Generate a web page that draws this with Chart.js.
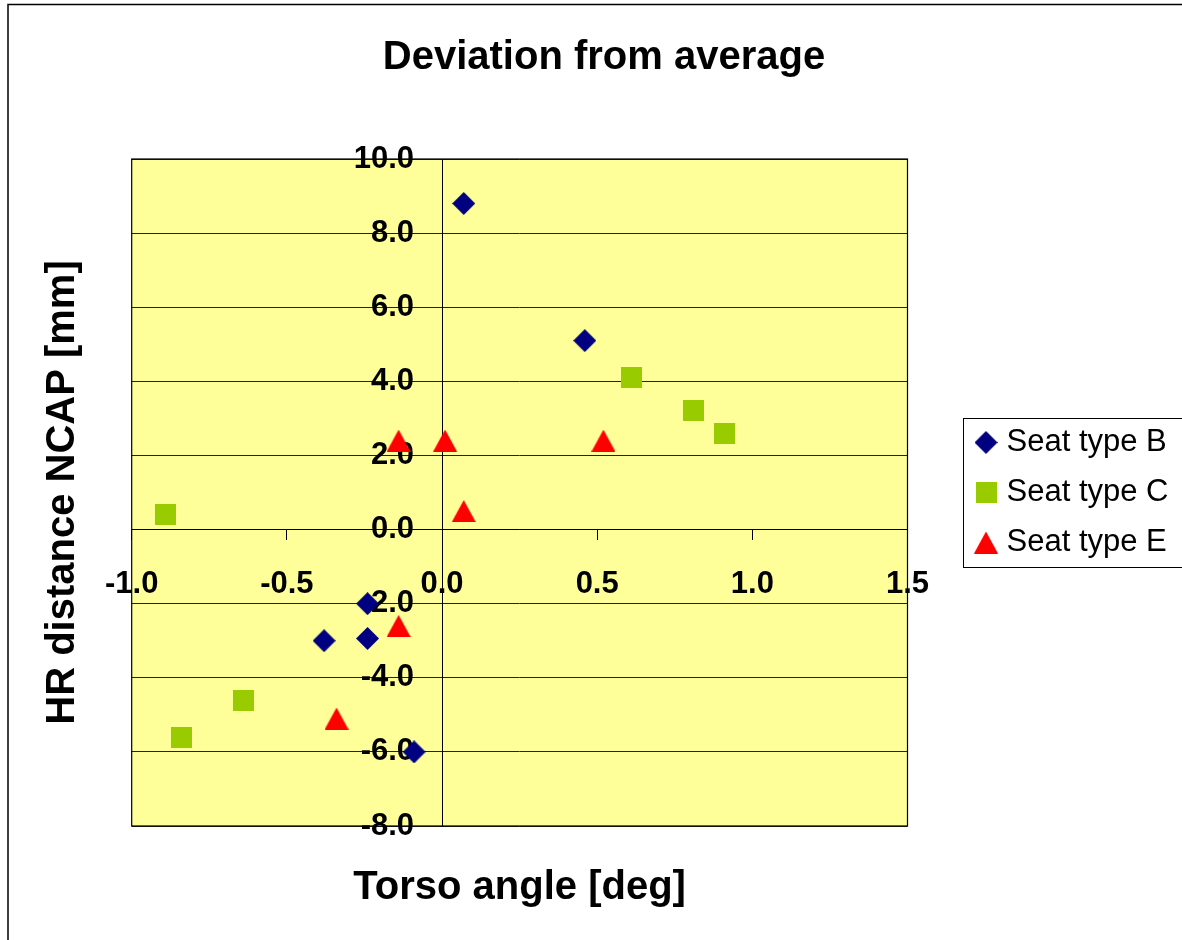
<!DOCTYPE html>
<html>
<head>
<meta charset="utf-8">
<title>Deviation from average</title>
<script src="https://cdn.jsdelivr.net/npm/chart.js@4/dist/chart.umd.min.js"></script>
<style>
  html, body { margin: 0; padding: 0; background: #ffffff; }
  #wrap { width: 1182px; height: 940px; }
</style>
</head>
<body>
<div id="wrap"><canvas id="chart" width="1182" height="940"></canvas></div>
<script>
// Torso angle [deg] (x) versus HR distance NCAP [mm] (y), per seat type
const seatTypes = ['Seat type B', 'Seat type C', 'Seat type E'];

const seatBTorso = [0.07, 0.46, -0.24, -0.38, -0.24, -0.09];
const seatBHR    = [8.8, 5.1, -2.0, -3.0, -2.94, -6.0];

const seatCTorso = [-0.89, 0.61, 0.81, 0.91, -0.64, -0.84];
const seatCHR    = [0.4, 4.1, 3.2, 2.6, -4.6, -5.6];

const seatETorso = [-0.14, 0.01, 0.07, 0.52, -0.14, -0.34];
const seatEHR    = [2.4, 2.4, 0.5, 2.4, -2.6, -5.1];

const xTicks = [-1.0, -0.5, 0.0, 0.5, 1.0, 1.5];
const yTicks = [-8, -6, -4, -2, 0, 2, 4, 6, 8, 10];

const FONT = '"Liberation Sans", Arial, Helvetica, sans-serif';

// marker glyphs
function makeMarker(kind, color) {
  const c = document.createElement('canvas');
  let w = 23, h = 23;
  if (kind === 'square') { w = 21; h = 21; }
  if (kind === 'triangle') { w = 24; h = 22; }
  c.width = w; c.height = h;
  const g = c.getContext('2d');
  g.fillStyle = color;
  g.beginPath();
  if (kind === 'diamond') {
    g.moveTo(w / 2, 0); g.lineTo(w, h / 2); g.lineTo(w / 2, h); g.lineTo(0, h / 2);
  } else if (kind === 'square') {
    g.rect(0, 0, w, h);
  } else {
    g.moveTo(w / 2, 0); g.lineTo(w, h); g.lineTo(0, h);
  }
  g.closePath();
  g.fill();
  return c;
}

const markerB = makeMarker('diamond', '#000080');
const markerC = makeMarker('square', '#99CC00');
const markerE = makeMarker('triangle', '#FF0000');

function toPoints(xs, ys) {
  return xs.map((x, i) => ({ x: x, y: ys[i] }));
}

// layout geometry
const legendFontSize = 31;
const legendPad = 19;
const legendBox = 10;
const measure = document.createElement('canvas').getContext('2d');
measure.font = legendFontSize + 'px ' + FONT;
const legendTextW = Math.max(...seatTypes.map(t => measure.measureText(t).width));
const legendW = legendPad + legendBox + legendFontSize / 2 + legendTextW + 10;
const padRight = 220 - legendW;
const padLeft = 26 + padRight;

const plotFrame = {
  id: 'plotFrame',
  beforeDraw(chart) {
    const { ctx, chartArea: a } = chart;
    ctx.save();
    ctx.fillStyle = '#ffffff';
    ctx.fillRect(0, 0, chart.width, chart.height);
    ctx.strokeStyle = '#000000';
    ctx.lineWidth = 1.5;
    ctx.strokeRect(8, 4.5, 1400, 1200);
    ctx.fillStyle = '#FFFF99';
    ctx.fillRect(a.left, a.top, a.right - a.left, a.bottom - a.top);
    ctx.restore();
  },
  beforeDatasetsDraw(chart) {
    const { ctx, chartArea: a } = chart;
    ctx.save();
    ctx.strokeStyle = '#000000';
    ctx.lineWidth = 1.2;
    ctx.strokeRect(a.left, a.top, a.right - a.left, a.bottom - a.top);
    ctx.restore();
  },
  afterDraw(chart) {
    const lg = chart.legend;
    if (!lg || !lg.legendHitBoxes || !lg.legendHitBoxes.length) return;
    const hb = lg.legendHitBoxes;
    const first = hb[0], last = hb[hb.length - 1];
    const top = first.top + first.height / 2 - 25;
    const bottom = last.top + last.height / 2 + 24;
    const { ctx } = chart;
    ctx.save();
    ctx.strokeStyle = '#000000';
    ctx.lineWidth = 1;
    ctx.strokeRect(Math.round(lg.left) + 1.5, Math.round(top) + 0.5, 400, Math.round(bottom - top));
    ctx.restore();
  }
};

const hidden = {
  display: true,
  grid: { display: false },
  border: { display: false },
  ticks: { display: false }
};

const tickFont = { family: FONT, size: 31, weight: 'bold' };

new Chart(document.getElementById('chart'), {
  type: 'scatter',
  data: {
    datasets: [
      { label: seatTypes[0], data: toPoints(seatBTorso, seatBHR), pointStyle: markerB,
        backgroundColor: '#000080', borderColor: '#000080', pointRadius: 10, xAxisID: 'x', yAxisID: 'y' },
      { label: seatTypes[1], data: toPoints(seatCTorso, seatCHR), pointStyle: markerC,
        backgroundColor: '#99CC00', borderColor: '#99CC00', pointRadius: 10, xAxisID: 'x', yAxisID: 'y' },
      { label: seatTypes[2], data: toPoints(seatETorso, seatEHR), pointStyle: markerE,
        backgroundColor: '#FF0000', borderColor: '#FF0000', pointRadius: 10, xAxisID: 'x', yAxisID: 'y' }
    ]
  },
  plugins: [plotFrame],
  options: {
    responsive: false,
    animation: false,
    devicePixelRatio: 1,
    layout: { padding: { left: padLeft, right: padRight, top: 0, bottom: 0 } },
    plugins: {
      title: {
        display: true,
        text: 'Deviation from average',
        color: '#000000',
        font: { family: FONT, size: 40, weight: 'bold', lineHeight: 1.2 },
        padding: { top: 58 - 24, bottom: 159 - (58 - 24) - 48 }
      },
      legend: {
        display: true,
        position: 'right',
        align: 'center',
        fullSize: false,
        maxWidth: 400,
        labels: {
          usePointStyle: true,
          boxWidth: legendBox,
          padding: legendPad,
          color: '#000000',
          font: { family: FONT, size: legendFontSize }
        }
      },
      tooltip: { enabled: false }
    },
    scales: {
      x: {
        type: 'linear',
        position: { y: 0 },
        min: -1.0,
        max: 1.5,
        afterBuildTicks: s => { s.ticks = xTicks.map(v => ({ value: v })); },
        ticks: {
          autoSkip: false,
          maxRotation: 0,
          padding: 26,
          color: '#000000',
          font: tickFont,
          callback: v => Number(v).toFixed(1)
        },
        grid: { display: true, drawOnChartArea: false, drawTicks: true, tickLength: 10, color: '#000000' },
        border: { display: true, color: '#000000', width: 1 }
      },
      y: {
        type: 'linear',
        position: { x: 0 },
        min: -8,
        max: 10,
        afterBuildTicks: s => { s.ticks = yTicks.map(v => ({ value: v })); },
        ticks: { display: false },
        grid: { display: true, drawOnChartArea: true, drawTicks: true, tickLength: 10, color: '#222222' },
        border: { display: true, color: '#000000', width: 1 }
      },
      // value labels of the vertical axis, set a little left of the axis line
      yLabels: {
        axis: 'y',
        type: 'linear',
        position: { x: -0.09 },
        min: -8,
        max: 10,
        afterBuildTicks: s => { s.ticks = yTicks.map(v => ({ value: v })); },
        grid: { display: false },
        border: { display: false },
        ticks: {
          autoSkip: false,
          padding: 0,
          color: '#000000',
          font: tickFont,
          callback: v => Number(v).toFixed(1)
        }
      },
      yTitle: Object.assign({}, hidden, {
        axis: 'y',
        type: 'linear',
        position: 'left',
        title: {
          display: true,
          text: 'HR distance NCAP [mm]',
          color: '#000000',
          font: { family: FONT, size: 40, weight: 'bold', lineHeight: 1.2 },
          padding: { top: 63 - 24 - padLeft, bottom: 0 }
        },
        afterFit: s => { s.width = 131.7 - padLeft; }
      }),
      xTitle: Object.assign({}, hidden, {
        axis: 'x',
        type: 'linear',
        position: 'bottom',
        title: {
          display: true,
          text: 'Torso angle [deg]',
          color: '#000000',
          font: { family: FONT, size: 40, weight: 'bold', lineHeight: 1.2 },
          padding: { top: 0, bottom: 28 }
        },
        afterFit: s => { s.height = 114; }
      }),
      legendGap: Object.assign({}, hidden, {
        axis: 'y',
        type: 'linear',
        position: 'right',
        afterFit: s => { s.width = 54.5; }
      })
    }
  }
});
</script>
</body>
</html>
